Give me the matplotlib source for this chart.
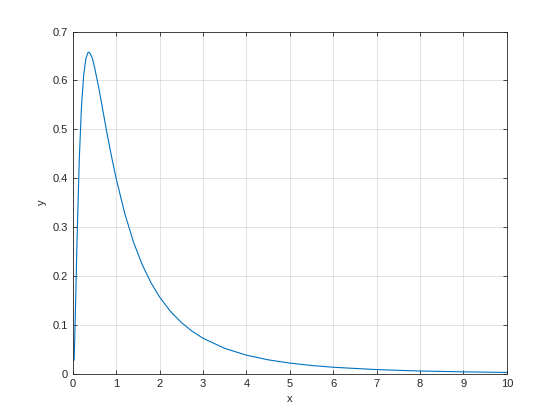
import matplotlib
matplotlib.use('Agg')
import matplotlib.pyplot as plt

# values
x_vals = [0.03, 0.04, 0.05, 0.08, 0.1, 0.15, 0.2, 0.25, 0.3, 0.35, 0.37, 0.4, 0.45,
          0.5, 0.6, 0.7, 0.8, 0.9, 1.0, 1.2, 1.4, 1.6, 1.8, 2.0, 2.25, 2.5, 2.75,
          3.0, 3.5, 4.0, 4.5, 5.0, 5.5, 6.0, 7.0, 8.0, 9.0, 10.0]
y_vals = [0.028, 0.056, 0.090, 0.205, 0.282, 0.440, 0.547, 0.610, 0.644, 0.657, 0.6577,
          0.655, 0.645, 0.6275, 0.584, 0.535, 0.486, 0.441, 0.399, 0.327, 0.269, 0.223,
          0.1865, 0.157, 0.1276, 0.105, 0.087, 0.0727, 0.052, 0.0381, 0.0286, 0.0219,
          0.017, 0.0134, 0.0086, 0.0057, 0.0040, 0.0028]

dark = (0.15, 0.15, 0.15)
plt.rcParams['font.family'] = ['Liberation Sans', 'DejaVu Sans']
plt.rcParams['font.size'] = 8

fig = plt.figure(figsize=(5.6, 4.2), dpi=100)
ax = fig.add_axes([0.13, 0.11, 0.775, 0.815])
ax.plot(x_vals, y_vals, color='#0072BD', linewidth=0.8)

ax.set_xlim(0, 10)
ax.set_ylim(0, 0.7)
ax.set_xticks(range(0, 11))
ax.set_yticks([0, 0.1, 0.2, 0.3, 0.4, 0.5, 0.6, 0.7])
ax.set_yticklabels(['0', '0.1', '0.2', '0.3', '0.4', '0.5', '0.6', '0.7'])
ax.grid(True, color=dark, alpha=0.15, linewidth=0.6)
ax.tick_params(direction='in', top=True, right=True, length=3, width=0.6,
               colors=dark, labelcolor=dark, labelsize=8)
for s in ax.spines.values():
    s.set_color(dark)
    s.set_linewidth(0.6)
ax.set_xlabel('x', color=dark, fontsize=8)
ax.set_ylabel('y', color=dark, fontsize=8)

fig.savefig('out.png', dpi=100)
